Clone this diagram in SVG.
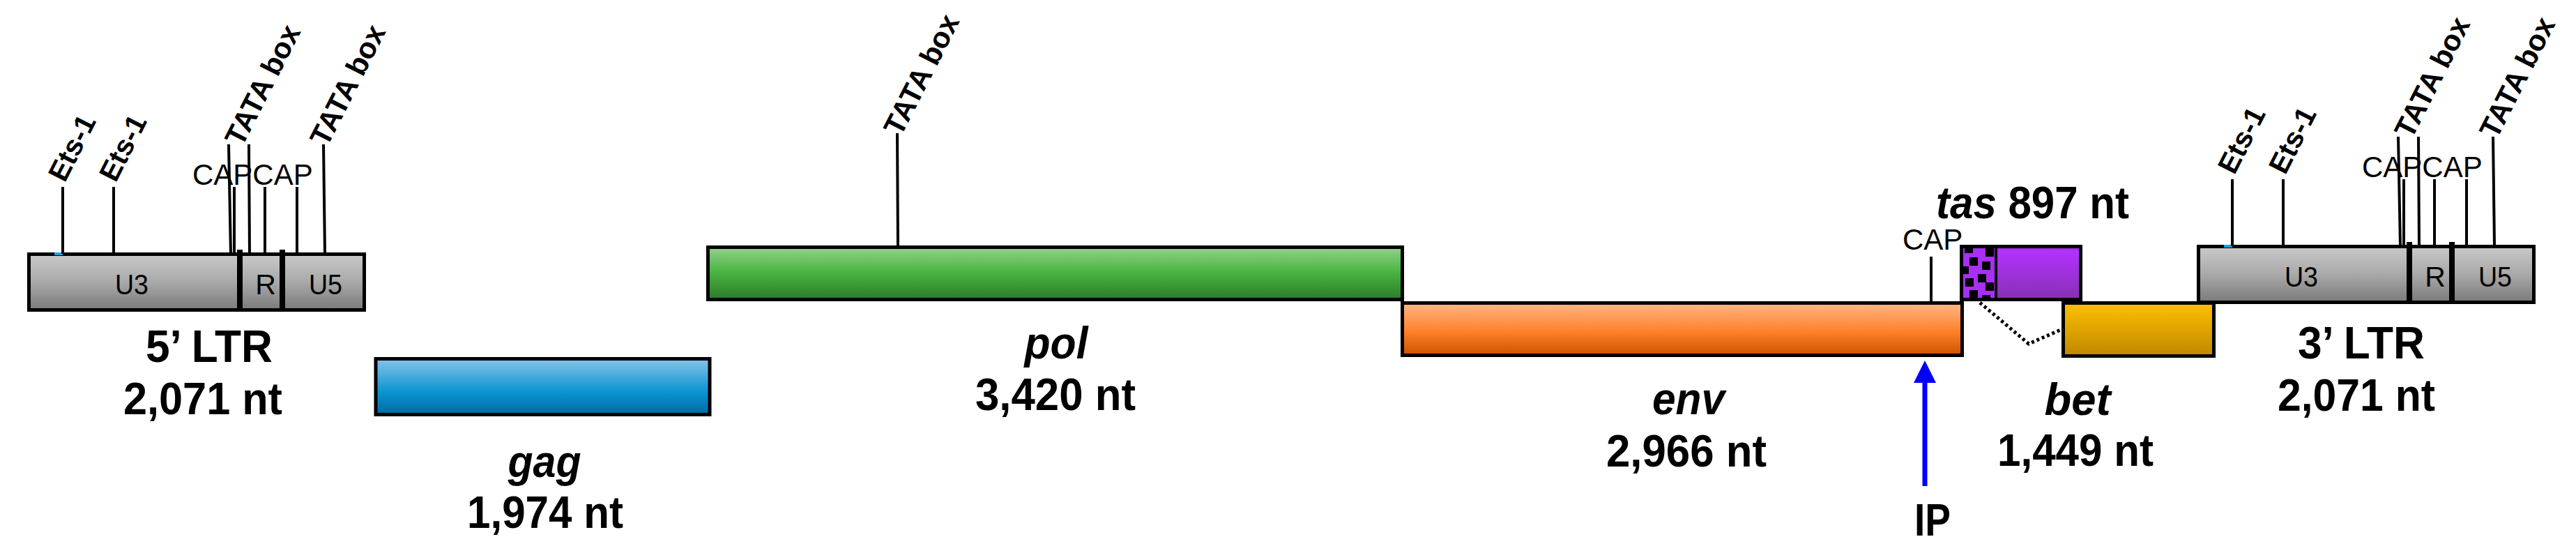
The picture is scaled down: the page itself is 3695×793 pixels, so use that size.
<svg xmlns="http://www.w3.org/2000/svg" xmlns:xlink="http://www.w3.org/1999/xlink" width="3695" height="793" viewBox="0 0 3695 793">
<style>
  .box { stroke:#000; stroke-width:5; }
  .tick { stroke:#000; stroke-width:4; fill:none; }
  .lbl { font-family:"Liberation Sans", Arial, sans-serif; font-weight:bold; font-size:64px; text-anchor:middle; fill:#000; }
  .it { font-style:italic; }
  .site { font-family:"Liberation Sans", Arial, sans-serif; font-weight:bold; font-size:41px; fill:#000; }
  .tata { font-family:"Liberation Sans", Arial, sans-serif; font-weight:bold; font-size:42px; fill:#000; }
  .cap { font-family:"Liberation Sans", Arial, sans-serif; font-weight:normal; font-size:42px; fill:#000; }
  .seg { font-family:"Liberation Sans", Arial, sans-serif; font-weight:normal; font-size:41px; text-anchor:middle; fill:#000; }
</style>
<defs>
  <linearGradient id="gGray" x1="0" y1="0" x2="0" y2="1">
    <stop offset="0" stop-color="#c9c9c9"/>
    <stop offset="0.5" stop-color="#a9a9a9"/>
    <stop offset="1" stop-color="#7a7a7a"/>
  </linearGradient>
  <linearGradient id="gBlue" x1="0" y1="0" x2="0" y2="1">
    <stop offset="0" stop-color="#88c4ea"/>
    <stop offset="0.6" stop-color="#0a93d0"/>
    <stop offset="1" stop-color="#006aa6"/>
  </linearGradient>
  <linearGradient id="gGreen" x1="0" y1="0" x2="0" y2="1">
    <stop offset="0" stop-color="#94d08c"/>
    <stop offset="0.45" stop-color="#4cb744"/>
    <stop offset="1" stop-color="#2b7a28"/>
  </linearGradient>
  <linearGradient id="gOrange" x1="0" y1="0" x2="0" y2="1">
    <stop offset="0" stop-color="#ffb886"/>
    <stop offset="0.55" stop-color="#ff8028"/>
    <stop offset="1" stop-color="#cc5200"/>
  </linearGradient>
  <linearGradient id="gPurple" x1="0" y1="0" x2="0" y2="1">
    <stop offset="0" stop-color="#8a2cc0"/>
    <stop offset="0.08" stop-color="#b232ff"/>
    <stop offset="1" stop-color="#8630b2"/>
  </linearGradient>
  <linearGradient id="gGold" x1="0" y1="0" x2="0" y2="1">
    <stop offset="0" stop-color="#ffc000"/>
    <stop offset="0.5" stop-color="#e0a400"/>
    <stop offset="1" stop-color="#c08600"/>
  </linearGradient>
  <g id="ltrBody">
    <rect x="41.5" y="364.5" width="481" height="80" fill="url(#gGray)" class="box"/>
    <rect x="340" y="358" width="8" height="89" fill="#000"/>
    <rect x="401" y="358" width="8" height="89" fill="#000"/>
    <rect x="78" y="362" width="12" height="4" fill="#1ea0e0"/>
    <line class="tick" x1="90" y1="268" x2="90" y2="364"/>
    <line class="tick" x1="163" y1="268" x2="163" y2="364"/>
    <line class="tick" x1="328" y1="207" x2="331" y2="364"/>
    <line class="tick" x1="336" y1="268" x2="336" y2="364"/>
    <line class="tick" x1="357" y1="207" x2="358" y2="364"/>
    <line class="tick" x1="380" y1="268" x2="380" y2="364"/>
    <line class="tick" x1="426" y1="268" x2="426" y2="364"/>
    <line class="tick" x1="464" y1="207" x2="466" y2="364"/>
    <text class="seg" x="189" y="422" textLength="48" lengthAdjust="spacingAndGlyphs">U3</text>
    <text class="seg" x="381" y="422">R</text>
    <text class="seg" x="467" y="422" textLength="48" lengthAdjust="spacingAndGlyphs">U5</text>
    <text class="cap" x="276" y="265">CAPCAP</text>
    <text class="site" transform="translate(93,263) rotate(-63)">Ets-1</text>
    <text class="site" transform="translate(166,263) rotate(-63)">Ets-1</text>
    <text class="tata" transform="translate(347,212) rotate(-63)">TATA box</text>
    <text class="tata" transform="translate(469,212) rotate(-63)">TATA box</text>
  </g>
</defs>

<g id="ltr5">
  <use xlink:href="#ltrBody" href="#ltrBody"/>
  <text class="lbl" x="300" y="519" textLength="182" lengthAdjust="spacingAndGlyphs">5’ LTR</text>
  <text class="lbl" x="291" y="594" textLength="228" lengthAdjust="spacingAndGlyphs">2,071 nt</text>
</g>

<g id="gag">
  <rect x="539" y="514.5" width="479" height="80" fill="url(#gBlue)" class="box"/>
  <text class="lbl it" x="781" y="684" textLength="105" lengthAdjust="spacingAndGlyphs">gag</text>
  <text class="lbl" x="782" y="757" textLength="224" lengthAdjust="spacingAndGlyphs">1,974 nt</text>
</g>

<g id="pol">
  <rect x="1015.5" y="354.5" width="996" height="75" fill="url(#gGreen)" class="box"/>
  <line class="tick" x1="1287" y1="191" x2="1288" y2="354"/>
  <text class="tata" transform="translate(1292,197) rotate(-63)">TATA box</text>
  <text class="lbl it" x="1515" y="514" textLength="91" lengthAdjust="spacingAndGlyphs">pol</text>
  <text class="lbl" x="1514" y="588" textLength="230" lengthAdjust="spacingAndGlyphs">3,420 nt</text>
</g>

<g id="env">
  <rect x="2011.5" y="434.5" width="803" height="75" fill="url(#gOrange)" class="box"/>
  <line class="tick" x1="2770" y1="368" x2="2770" y2="434"/>
  <text class="cap" x="2729" y="358">CAP</text>
  <text class="lbl it" x="2422" y="594" textLength="104" lengthAdjust="spacingAndGlyphs">env</text>
  <text class="lbl" x="2419" y="669" textLength="230" lengthAdjust="spacingAndGlyphs">2,966 nt</text>
</g>

<g id="bet">
  <rect x="2959.5" y="434.5" width="216" height="76" fill="url(#gGold)" class="box"/>
  <text class="lbl it" x="2980" y="595" textLength="95" lengthAdjust="spacingAndGlyphs">bet</text>
  <text class="lbl" x="2977" y="668" textLength="224" lengthAdjust="spacingAndGlyphs">1,449 nt</text>
</g>

<g id="tas">
  <rect x="2813.5" y="353.5" width="171" height="76" fill="url(#gPurple)" class="box"/>
  <rect x="2816" y="356" width="46" height="71" fill="#a82ff5"/>
  <g fill="#000">
    <rect x="2818" y="356" width="12" height="7"/>
    <rect x="2848" y="356" width="12" height="12"/>
    <rect x="2825" y="369" width="12" height="12"/>
    <rect x="2843" y="375" width="12" height="12"/>
    <rect x="2816" y="382" width="8" height="11"/>
    <rect x="2819" y="399" width="12" height="12"/>
    <rect x="2837" y="393" width="12" height="12"/>
    <rect x="2848" y="405" width="12" height="12"/>
    <rect x="2825" y="416" width="12" height="11"/>
    <rect x="2843" y="423" width="12" height="4"/>
  </g>
  <rect x="2861" y="355" width="4" height="74" fill="#000"/>
  <text class="lbl" x="2777" y="313" style="text-anchor:start" textLength="277" lengthAdjust="spacingAndGlyphs"><tspan class="it">tas</tspan> 897 nt</text>
</g>

<g id="ltr3">
  <use xlink:href="#ltrBody" href="#ltrBody" transform="translate(3112,-11)"/>
  <text class="lbl" x="3387" y="514" textLength="182" lengthAdjust="spacingAndGlyphs">3’ LTR</text>
  <text class="lbl" x="3380" y="589" textLength="226" lengthAdjust="spacingAndGlyphs">2,071 nt</text>
</g>

<g id="connectors">
  <polyline points="2840,434 2910,493 2958,472" fill="none" stroke="#000" stroke-width="5" stroke-dasharray="4 4"/>
  <g id="ip">
    <line x1="2761" y1="697" x2="2761" y2="545" stroke="#0000ff" stroke-width="7"/>
    <polygon points="2761,517 2745,549 2777,549" fill="#0000ff"/>
    <text class="lbl" x="2772" y="768" textLength="52" lengthAdjust="spacingAndGlyphs">IP</text>
  </g>
</g>
</svg>
